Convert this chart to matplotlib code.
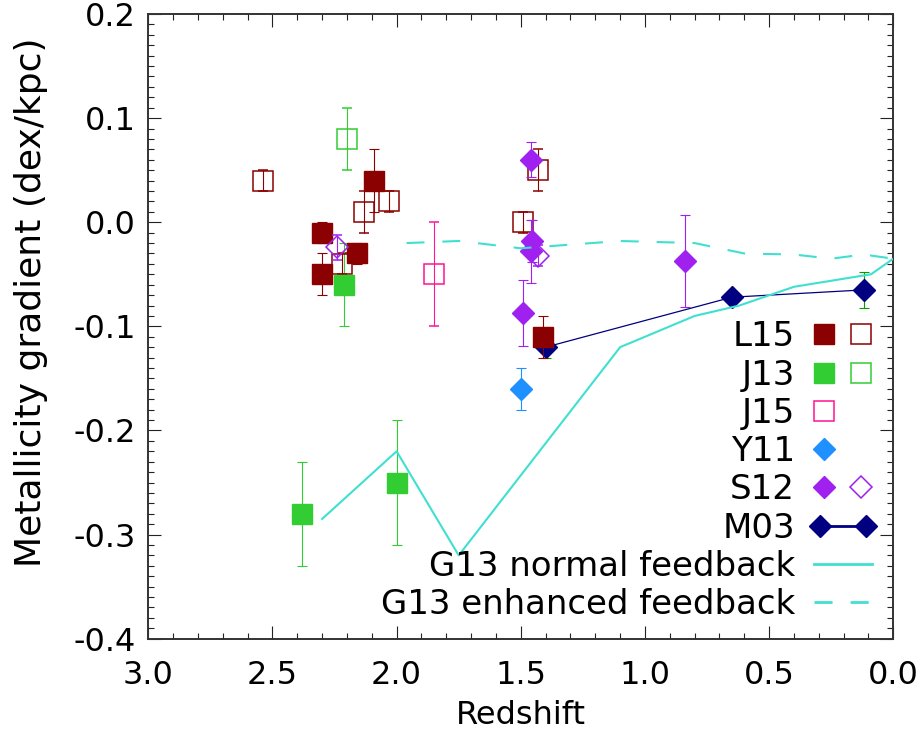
import numpy as np
import matplotlib
matplotlib.use("Agg")
import matplotlib.pyplot as plt
from matplotlib.lines import Line2D
from matplotlib.legend_handler import HandlerTuple, HandlerLine2D
from matplotlib.ticker import MultipleLocator, FormatStrFormatter

plt.rcParams["font.family"] = "DejaVu Sans"
plt.rcParams["axes.unicode_minus"] = False

# ---- data (redshift, gradient in dex/kpc, error) ----
l15_z = [2.30, 2.30, 2.16, 2.09, 1.41]
l15_g = [-0.01, -0.05, -0.03, 0.04, -0.11]
l15_err = [0.01, 0.02, 0.01, 0.03, 0.02]

l15o_z = [2.54, 2.22, 2.13, 2.03, 1.49, 1.43]
l15o_g = [0.04, -0.04, 0.01, 0.02, 0.00, 0.05]
l15o_err = [0.01, 0.01, 0.02, 0.01, 0.01, 0.02]

j13_z = [2.38, 2.21, 2.00]
j13_g = [-0.28, -0.06, -0.25]
j13_err = [0.05, 0.04, 0.06]

j13o_z = [2.20]
j13o_g = [0.08]
j13o_err = [0.03]

j15_z = [1.85]
j15_g = [-0.05]
j15_err = [0.05]

y11_z = [1.50]
y11_g = [-0.16]
y11_err = [0.02]

s12_z = [1.46, 1.455, 1.46, 1.49, 0.84]
s12_g = [0.06, -0.018, -0.028, -0.087, -0.037]
s12_err = [0.017, 0.02, 0.03, 0.032, 0.044]

s12o_z = [2.24, 1.43]
s12o_g = [-0.024, -0.032]
s12o_err = [0.012, 0.01]

m03_z = [1.40, 0.65, 0.12]
m03_g = [-0.12, -0.072, -0.065]
m03_err = [0.01, 0.0, 0.017]

g13n_z = [2.30, 2.00, 1.75, 1.10, 0.80, 0.62, 0.40, 0.09, 0.00]
g13n_g = [-0.285, -0.22, -0.32, -0.12, -0.09, -0.08, -0.062, -0.05, -0.035]

g13e_z = [1.96, 1.75, 1.50, 1.10, 0.80, 0.60, 0.40, 0.25, 0.12, 0.00]
g13e_g = [-0.020, -0.018, -0.025, -0.018, -0.020, -0.030, -0.031, -0.035, -0.031, -0.035]

RED = "#8B0000"
GREEN = "#32CD32"
PINK = "#FF1493"
BLUE = "#1E90FF"
PURPLE = "#A020F0"
NAVY = "#000080"
TURQ = "#40E0D0"

SQ = 14.2
DM = 11.5

fig = plt.figure(figsize=(9.22, 7.31), dpi=100)
ax = fig.add_axes([0.1608, 0.1263, 0.8081, 0.8545])

eb = dict(ls="none", elinewidth=0.8, capsize=3.8, capthick=0.8)

ax.plot(m03_z, m03_g, color=NAVY, lw=0.9, zorder=2)
ax.errorbar(m03_z, m03_g, yerr=m03_err, fmt="D", ms=DM, color=NAVY, ecolor="#00A000", zorder=2, **eb)

ax.errorbar(l15o_z, l15o_g, yerr=l15o_err, fmt="s", ms=SQ, mfc="none", mec=RED, mew=1.1, ecolor=RED, zorder=3, **eb)
ax.errorbar(l15_z, l15_g, yerr=l15_err, fmt="s", ms=SQ, color=RED, zorder=3, **eb)
ax.errorbar(j13o_z, j13o_g, yerr=j13o_err, fmt="s", ms=SQ, mfc="none", mec=GREEN, mew=1.1, ecolor=GREEN, zorder=3, **eb)
ax.errorbar(j13_z, j13_g, yerr=j13_err, fmt="s", ms=SQ, color=GREEN, zorder=3, **eb)
ax.errorbar(j15_z, j15_g, yerr=j15_err, fmt="s", ms=SQ, mfc="none", mec=PINK, mew=1.1, ecolor=PINK, zorder=3, **eb)
ax.errorbar(y11_z, y11_g, yerr=y11_err, fmt="D", ms=DM, color=BLUE, zorder=4, **eb)
ax.errorbar(s12o_z, s12o_g, yerr=s12o_err, fmt="D", ms=DM, mfc="none", mec=PURPLE, mew=1.1, ecolor=PURPLE, zorder=4, **eb)
ax.errorbar(s12_z, s12_g, yerr=s12_err, fmt="D", ms=DM, color=PURPLE, zorder=4, **eb)

ax.plot(g13n_z, g13n_g, color=TURQ, lw=1.5, zorder=5)
ax.plot(g13e_z, g13e_g, color=TURQ, lw=1.5, dashes=(8.6, 8.6), zorder=5)

ax.set_xlim(3.0, 0.0)
ax.set_ylim(-0.4, 0.2)
ax.xaxis.set_major_locator(MultipleLocator(0.5))
ax.xaxis.set_minor_locator(MultipleLocator(0.1))
ax.yaxis.set_major_locator(MultipleLocator(0.1))
ax.yaxis.set_minor_locator(MultipleLocator(0.01))
ax.xaxis.set_major_formatter(FormatStrFormatter("%.1f"))
ax.yaxis.set_major_formatter(FormatStrFormatter("%.1f"))
ax.tick_params(which="both", direction="in", top=True, right=True, width=0.8, colors="#222222", labelcolor="black")
ax.tick_params(which="major", length=9.5, labelsize=23)
ax.tick_params(which="minor", length=4.3)
ax.tick_params(axis="x", which="major", pad=15.5)
ax.tick_params(axis="y", which="major", pad=8.9)
for s in ax.spines.values():
    s.set_linewidth(1.4)
    s.set_color("#333333")

ax.set_xlabel("Redshift", fontsize=23)
ax.set_ylabel("Metallicity gradient (dex/kpc)", fontsize=26)
ax.xaxis.set_label_coords(0.5, -0.098)
ax.yaxis.set_label_coords(-0.135, 0.539)

# legend
def mk(marker, color, filled=True, ms=SQ):
    if filled:
        return Line2D([], [], ls="none", marker=marker, ms=ms, color=color)
    return Line2D([], [], ls="none", marker=marker, ms=ms, mfc="none", mec=color, mew=1.1)

blank = Line2D([], [], ls="none")
h_m03 = Line2D([], [], color=NAVY, lw=2.0, marker="D", ms=DM)
handles = [
    (mk("s", RED), mk("s", RED, False)),
    (mk("s", GREEN), mk("s", GREEN, False)),
    (mk("s", PINK, False), blank),
    (mk("D", BLUE, ms=DM), blank),
    (mk("D", PURPLE, ms=DM), mk("D", PURPLE, False, ms=DM)),
    h_m03,
    Line2D([], [], color=TURQ, lw=2.0),
    Line2D([], [], color=TURQ, lw=2.0, dashes=(6.5, 6.5)),
]
labels = ["L15", "J13", "J15", "Y11", "S12", "M03", "G13 normal feedback", "G13 enhanced feedback"]

ax.legend(handles, labels, loc="lower right", bbox_to_anchor=(0.9714, 0.028),
          frameon=False, markerfirst=False, fontsize=24.5, numpoints=1,
          handlelength=1.71, handletextpad=0.55, labelspacing=0.155,
          borderpad=0, borderaxespad=0,
          handler_map={tuple: HandlerTuple(ndivide=2, pad=0.47),
                       h_m03: HandlerLine2D(numpoints=2, marker_pad=0.18)})

fig.savefig("out.png", dpi=100)
